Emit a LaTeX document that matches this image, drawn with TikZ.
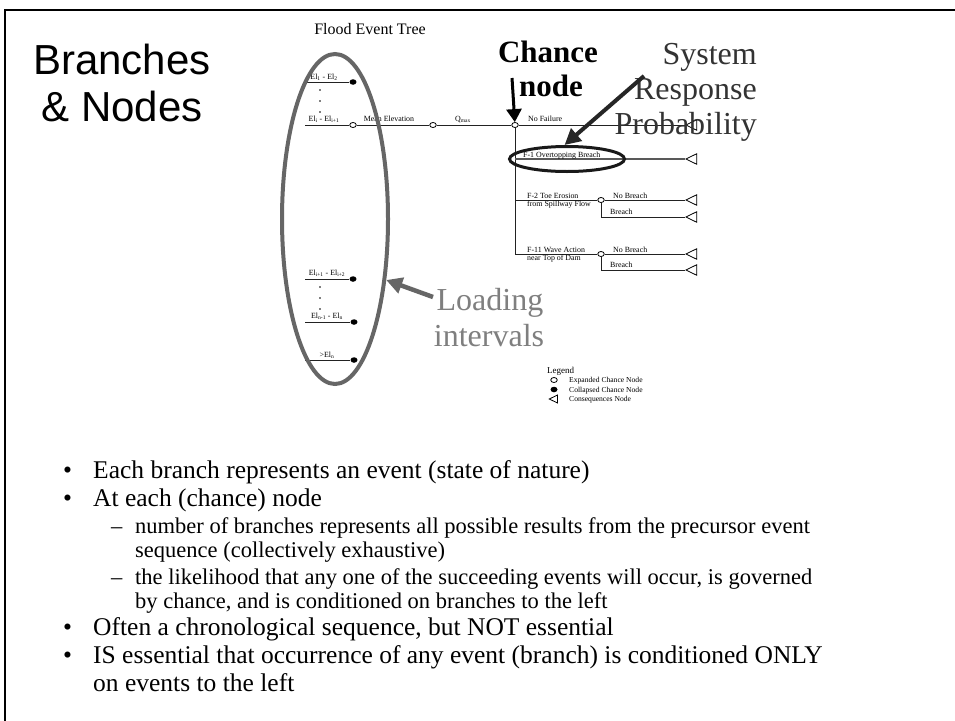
\documentclass[tikz,border=0pt]{standalone}
\usepackage{fontspec}
\setmainfont{Liberation Serif}
\newfontfamily\arialfont{Liberation Sans}
\usetikzlibrary{arrows.meta,shapes.geometric}
\definecolor{calloutgray}{HTML}{7F7F7F}
\definecolor{ringgray}{HTML}{666666}
\definecolor{textdark}{HTML}{333333}
\definecolor{treeline}{HTML}{222222}

\begin{document}
\begin{tikzpicture}[x=1pt,y=-1pt,
  treelabel/.style={font=\fontsize{7.9}{8}\selectfont, inner sep=0pt, anchor=base west},
  treelabelc/.style={font=\fontsize{7.9}{8}\selectfont, inner sep=0pt, anchor=base},
  legtext/.style={font=\fontsize{7.6}{8}\selectfont, inner sep=0pt, anchor=base west},
  opennode/.style={ellipse, draw=black, fill=white, line width=0.8pt, inner sep=0pt,
    minimum width=6.5pt, minimum height=5pt},
  closednode/.style={ellipse, fill=black, inner sep=0pt, minimum width=7pt, minimum height=5.5pt},
  conseq/.style={isosceles triangle, shape border rotate=180, draw=black, fill=white,
    line width=0.8pt, inner sep=0pt, isosceles triangle apex angle=52, minimum size=10.5pt},
  branch/.style={draw=treeline, line width=0.9pt},
  bigtext/.style={font=\fontsize{32}{36}\selectfont, inner sep=0pt},
  bullettext/.style={font=\fontsize{25.5}{28}\selectfont, inner sep=0pt, anchor=base west},
  subtext/.style={font=\fontsize{22.5}{25}\selectfont, inner sep=0pt, anchor=base west},
  callout/.style={line width=4.5pt, -{Triangle[length=16pt,width=16pt]}},
]
\useasboundingbox (0,0) rectangle (955,720);
\fill[white] (0,0) rectangle (955,720);
% slide frame
\draw[line width=2.5pt] (5,730) -- (5,10) -- (965,10);

% slide title
\node[font=\arialfont\fontsize{42}{46}\selectfont, inner sep=0pt, anchor=base] (title1) at (122,74) {Branches};
\node[font=\arialfont\fontsize{42}{46}\selectfont, inner sep=0pt, anchor=base] (title2) at (122,121) {\& Nodes};

% tree heading
\node[font=\fontsize{16}{18}\selectfont, inner sep=0pt, anchor=base] (treetitle) at (370,34) {Flood Event Tree};

% ---- loading intervals (left column) ----
\coordinate (s1) at (305,82);
\node[closednode] (c1) at (353,82) {};
\draw[branch] (s1) -- (c1);
\node[treelabelc] (l1) at (324,79) {El\textsubscript{1} - El\textsubscript{2}};
\foreach \yy in {90,101,112} \fill (320,\yy) circle (0.8pt);

\coordinate (si) at (305,125);
\node[opennode] (ci) at (353,125) {};
\draw[branch] (si) -- (ci);
\node[treelabelc] (li) at (324,121) {El\textsubscript{i} - El\textsubscript{i+1}};

\coordinate (sj) at (305,279);
\node[closednode] (cj) at (353,279) {};
\draw[branch] (sj) -- (cj);
\node[treelabelc] (lj) at (327,275) {El\textsubscript{i+1} - El\textsubscript{i+2}};
\foreach \yy in {287,298,309} \fill (320,\yy) circle (0.8pt);

\coordinate (sk) at (305,322);
\node[closednode] (ck) at (354,322) {};
\draw[branch] (sk) -- (ck);
\node[treelabelc] (lk) at (327,318) {El\textsubscript{n-1} - El\textsubscript{n}};

\coordinate (sn) at (305,360);
\node[closednode] (cn) at (354,360) {};
\draw[branch] (sn) -- (cn);
\node[treelabelc] (ln) at (327,357) {>El\textsubscript{n}};

% ---- main path ----
\node[opennode] (me) at (433,125) {};
\node[opennode] (sr) at (515,125) {};
\draw[branch] (ci) -- (me);
\draw[branch] (me) -- (sr);
\node[treelabelc] (melbl) at (389,121) {Mean Elevation};
\node[treelabelc] (qlbl) at (463,121) {Q\textsubscript{max}};

\node[conseq, anchor=apex] (nf) at (685,125) {};
\draw[branch] (sr) -- (nf.apex);
\node[treelabel] at (528,121) {No Failure};

% system response spine
\coordinate (j1) at (515,159);
\coordinate (j2) at (515,200);
\coordinate (j3) at (515,254);
\draw[branch] (sr) -- (j3);

% F-1
\node[conseq, anchor=apex] (f1t) at (685,159) {};
\draw[branch, draw=black!65, line width=1.1pt] (j1) -- (f1t.apex);
\node[treelabel] at (523,157) {F-1 Overtopping Breach};

% F-2
\node[opennode] (f2) at (601,200) {};
\draw[branch] (j2) -- (f2);
\node[treelabel] at (527,198) {F-2 Toe Erosion};
\node[treelabel] at (527,206) {from Spillway Flow};
\node[conseq, anchor=apex] (f2a) at (685,200) {};
\node[conseq, anchor=apex] (f2b) at (685,217) {};
\draw[branch] (f2) -- (f2a.apex);
\draw[branch] (f2) |- (f2b.apex);
\node[treelabel] at (613,198) {No Breach};
\node[treelabel] at (610,214) {Breach};

% F-11
\node[opennode] (f11) at (601,254) {};
\draw[branch] (j3) -- (f11);
\node[treelabel] at (527,252) {F-11 Wave Action};
\node[treelabel] at (527,260) {near Top of Dam};
\node[conseq, anchor=apex] (f11a) at (685,254) {};
\node[conseq, anchor=apex] (f11b) at (685,270) {};
\draw[branch] (f11) -- (f11a.apex);
\draw[branch] (f11) |- (f11b.apex);
\node[treelabel] at (613,252) {No Breach};
\node[treelabel] at (610,267) {Breach};

% legend
\node[font=\fontsize{9}{10}\selectfont, inner sep=0pt, anchor=base west] (legtitle) at (547,373) {Legend};
\node[opennode] (lg1) at (554,380) {};
\node[legtext] at (569,382.5) {Expanded Chance Node};
\node[closednode] (lg2) at (554,389.5) {};
\node[legtext] at (569,392) {Collapsed Chance Node};
\node[conseq, minimum size=8pt] (lg3) at (555,399) {};
\node[legtext] at (569,401.5) {Consequences Node};

% ---- annotations ----
\node[draw=ringgray, line width=4pt, ellipse, minimum width=106pt, minimum height=330pt] (loadring) at (335,219) {};
\node[draw=black!90, line width=3pt, ellipse, minimum width=115pt, minimum height=25pt] (f1ring) at (567,159) {};

\node[bigtext, font=\bfseries\fontsize{31}{34}\selectfont, anchor=base] (chance1) at (548,62) {Chance};
\node[bigtext, font=\bfseries\fontsize{31}{34}\selectfont, anchor=base] (chance2) at (551,96) {node};
\coordinate (chtail) at (512,78);
\draw[line width=3pt, -{Triangle[length=13pt,width=15pt]}] (chtail) -- (sr);

\node[bigtext, text=textdark, anchor=base east] (sys1) at (757,64) {System};
\node[bigtext, text=textdark, anchor=base east] (sys2) at (757,99) {Response};
\node[bigtext, text=textdark, anchor=base east] (sys3) at (757,134) {Probability};
\coordinate (systail) at (644,76);
\draw[callout, draw=black!85, fill=black!85, line width=4pt] (systail) -- (f1ring.100);

\node[bigtext, text=calloutgray, anchor=base] (load1) at (490,310) {Loading};
\node[bigtext, text=calloutgray, anchor=base] (load2) at (489,346) {intervals};
\coordinate (loadtail) at (433,297);
\draw[callout, draw=ringgray, fill=ringgray] (loadtail) -- (loadring.-50);

% ---- bullet list ----
\node[bullettext] at (63,478) {•};
\node[bullettext] at (93,478) {Each branch represents an event (state of nature)};
\node[bullettext] at (63,506) {•};
\node[bullettext] at (93,506) {At each (chance) node};
\node[subtext] at (111,533) {–};
\node[subtext] at (135,533) {number of branches represents all possible results from the precursor event};
\node[subtext] at (135,557) {sequence (collectively exhaustive)};
\node[subtext] at (111,584) {–};
\node[subtext] at (135,584) {the likelihood that any one of the succeeding events will occur, is governed};
\node[subtext] at (135,608) {by chance, and is conditioned on branches to the left};
\node[bullettext] at (63,635) {•};
\node[bullettext] at (93,635) {Often a chronological sequence, but NOT essential};
\node[bullettext] at (63,663) {•};
\node[bullettext] at (93,663) {IS essential that occurrence of any event (branch) is conditioned ONLY};
\node[bullettext] at (93,691) {on events to the left};
\end{tikzpicture}
\end{document}
